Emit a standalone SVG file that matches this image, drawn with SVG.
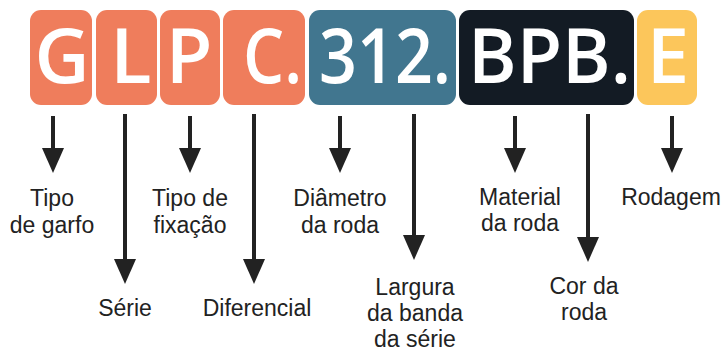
<svg xmlns="http://www.w3.org/2000/svg" width="723" height="352" viewBox="0 0 723 352">
<style>
.big{font-family:"Open Sans","Liberation Sans",sans-serif;font-size:76px;fill:#fff;font-weight:600}
.lbl{font-family:"Liberation Sans",Arial,sans-serif;font-size:23px;fill:#222;text-anchor:middle}
.ln{stroke:#222;stroke-width:4;fill:none}
</style>
<defs>
<marker id="ah" viewBox="0 0 25 22" refX="0" refY="11" markerWidth="25" markerHeight="22" markerUnits="userSpaceOnUse" orient="auto">
<path d="M0,0 L25,11 L0,22 Z" fill="#222"/>
</marker>
</defs>
<rect width="723" height="352" fill="#fff"/>
<g id="code">
<g id="box-G"><rect x="30" y="10" width="62" height="95" rx="11" fill="#EF7D5C"/><text class="big" x="62" y="83" text-anchor="middle">G</text></g>
<g id="box-L"><rect x="96" y="10" width="61" height="95" rx="11" fill="#EF7D5C"/><text class="big" x="131" y="83" text-anchor="middle">L</text></g>
<g id="box-P"><rect x="160" y="10" width="60" height="95" rx="11" fill="#EF7D5C"/><text class="big" x="189" y="83" text-anchor="middle">P</text></g>
<g id="box-C"><rect x="223" y="10" width="82" height="95" rx="11" fill="#EF7D5C"/><text class="big" x="243" y="83" textLength="59" lengthAdjust="spacingAndGlyphs">C.</text></g>
<g id="box-312"><rect x="309" y="10" width="147" height="95" rx="11" fill="#41768F"/><text class="big" x="319" y="83" textLength="132" lengthAdjust="spacingAndGlyphs">312.</text></g>
<g id="box-BPB"><rect x="459" y="10" width="175" height="95" rx="11" fill="#131B24"/><text class="big" x="468" y="83" textLength="163" lengthAdjust="spacingAndGlyphs">BPB.</text></g>
<g id="box-E"><rect x="637" y="10" width="60" height="95" rx="11" fill="#FCC65B"/><text class="big" x="668" y="83" text-anchor="middle">E</text></g>
</g>
<g id="connectors">
<line class="ln" x1="53" y1="116" x2="53" y2="148" marker-end="url(#ah)"/>
<line class="ln" x1="125" y1="114" x2="125" y2="259" marker-end="url(#ah)"/>
<line class="ln" x1="190" y1="116" x2="190" y2="148" marker-end="url(#ah)"/>
<line class="ln" x1="254" y1="114" x2="254" y2="259" marker-end="url(#ah)"/>
<line class="ln" x1="340" y1="116" x2="340" y2="148" marker-end="url(#ah)"/>
<line class="ln" x1="414" y1="114" x2="414" y2="235" marker-end="url(#ah)"/>
<line class="ln" x1="515" y1="116" x2="515" y2="148" marker-end="url(#ah)"/>
<line class="ln" x1="588" y1="114" x2="588" y2="237" marker-end="url(#ah)"/>
<line class="ln" x1="672" y1="116" x2="672" y2="148" marker-end="url(#ah)"/>
</g>
<g id="lbl-tipo-garfo"><text class="lbl" x="52" y="206">Tipo</text><text class="lbl" x="52" y="233">de garfo</text></g>
<g id="lbl-serie"><text class="lbl" x="125" y="316">Série</text></g>
<g id="lbl-fixacao"><text class="lbl" x="190" y="206">Tipo de</text><text class="lbl" x="190" y="233">fixação</text></g>
<g id="lbl-diferencial"><text class="lbl" x="257" y="316">Diferencial</text></g>
<g id="lbl-diametro"><text class="lbl" x="340" y="206">Diâmetro</text><text class="lbl" x="340" y="233">da roda</text></g>
<g id="lbl-largura"><text class="lbl" x="415" y="295">Largura</text><text class="lbl" x="415" y="321">da banda</text><text class="lbl" x="415" y="347">da série</text></g>
<g id="lbl-material"><text class="lbl" x="520" y="205">Material</text><text class="lbl" x="520" y="231">da roda</text></g>
<g id="lbl-cor"><text class="lbl" x="584" y="294">Cor da</text><text class="lbl" x="584" y="320">roda</text></g>
<g id="lbl-rodagem"><text class="lbl" x="671" y="205">Rodagem</text></g>
</svg>
